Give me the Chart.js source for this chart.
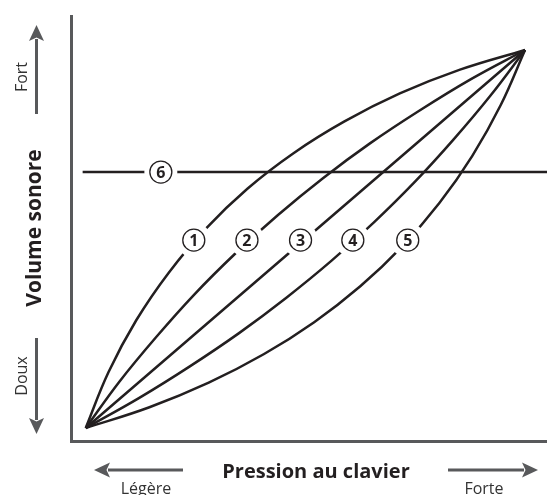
<!DOCTYPE html>
<html>
<head>
<meta charset="utf-8">
<script src="https://cdn.jsdelivr.net/npm/chart.js@4/dist/chart.umd.min.js"></script>
<style>
    html, body { margin: 0; padding: 0; background: #fff; }
    #wrap { position: relative; width: 547px; height: 495px; }
</style>
</head>
<body>
<div id="wrap"><canvas id="chart"></canvas></div>
<script>
// Key pressure (x) vs volume (y), both 0..100 from the common start to the common end point
const curve1 = [[0,0],[5.2,14.8],[11.5,28.5],[18.9,41.1],[27.3,52.7],[36.8,63.3],[47.3,72.7],[58.9,81.1],[71.5,88.5],[85.2,94.8],[100,100]];
const curve2 = [[0,0],[7.7,12.3],[16.0,24.0],[24.7,35.3],[34.0,46.1],[43.7,56.3],[54.0,66.1],[64.7,75.3],[76.0,84.0],[87.7,92.3],[100,100]];
const curve3 = [[0,0],[25,25],[50,50],[75,75],[100,100]];
const curve4 = [[0,0],[12.1,7.9],[23.7,16.3],[34.9,25.1],[45.6,34.4],[55.9,44.2],[65.6,54.4],[74.9,65.1],[83.7,76.3],[92.1,87.9],[100,100]];
const curve5 = [[0,0],[14.5,5.5],[28.0,12.0],[40.5,19.5],[52.0,28.0],[62.5,37.5],[72.0,48.0],[80.5,59.5],[88.0,72.0],[94.5,85.5],[100,100]];
const curve6 = [[-0.7,67.7],[105,67.7]];

// Circled numbers sitting on each curve
const labelText = ['1', '2', '3', '4', '5', '6'];
const labelX = [24.6, 36.7, 48.9, 60.8, 73.3, 17.1];
const labelY = [49.7, 49.7, 49.7, 49.7, 49.7, 67.7];

const INK = '#231f20';
const GREY = '#58595b';

function toPoints(arr) {
    return arr.map(p => ({ x: p[0], y: p[1] }));
}

function makeDataset(arr) {
    return {
        data: toPoints(arr),
        showLine: true,
        borderColor: INK,
        borderWidth: 2.5,
        pointRadius: 0,
        tension: 0.4,
        fill: false
    };
}

/**
 * Draw a grey arrow with a notched head, tip at (x2, y2)
 */
function drawArrow(ctx, x1, y1, x2, y2) {
    const ang = Math.atan2(y2 - y1, x2 - x1);
    const len = 16, half = 7.5, notch = 3.5;
    ctx.save();
    ctx.strokeStyle = GREY;
    ctx.fillStyle = GREY;
    ctx.lineWidth = 3;
    ctx.beginPath();
    ctx.moveTo(x1, y1);
    ctx.lineTo(x2 - Math.cos(ang) * (len - 2), y2 - Math.sin(ang) * (len - 2));
    ctx.stroke();
    ctx.translate(x2, y2);
    ctx.rotate(ang);
    ctx.beginPath();
    ctx.moveTo(0, 0);
    ctx.lineTo(-len, -half);
    ctx.lineTo(-len + notch, 0);
    ctx.lineTo(-len, half);
    ctx.closePath();
    ctx.fill();
    ctx.restore();
}

function rotatedText(ctx, text, x, y, font) {
    ctx.save();
    ctx.translate(x, y);
    ctx.rotate(-Math.PI / 2);
    ctx.font = font;
    ctx.textAlign = 'center';
    ctx.textBaseline = 'middle';
    ctx.fillText(text, 0, 0);
    ctx.restore();
}

const decorations = {
    id: 'decorations',
    beforeDatasetsDraw(chart) {
        const { ctx, chartArea } = chart;
        // Axes
        ctx.save();
        ctx.strokeStyle = GREY;
        ctx.lineWidth = 3;
        ctx.lineJoin = 'miter';
        ctx.beginPath();
        ctx.moveTo(chartArea.left + 0.5, chartArea.top);
        ctx.lineTo(chartArea.left + 0.5, chartArea.bottom + 0.5);
        ctx.lineTo(chartArea.right, chartArea.bottom + 0.5);
        ctx.stroke();
        ctx.restore();

        // Arrows
        drawArrow(ctx, 36.5, 114, 36.5, 25);
        drawArrow(ctx, 36.5, 338, 36.5, 434);
        drawArrow(ctx, 183, 470, 94, 470);
        drawArrow(ctx, 448, 470, 538, 470);

        // Axis texts
        ctx.save();
        ctx.fillStyle = '#333333';
        rotatedText(ctx, 'Fort', 22, 77, '16px "Open Sans"');
        rotatedText(ctx, 'Doux', 22, 376, '16px "Open Sans"');
        ctx.font = '16px "Open Sans"';
        ctx.textAlign = 'center';
        ctx.textBaseline = 'alphabetic';
        ctx.fillText('Légère', 146, 493.5);
        ctx.fillText('Forte', 484, 493.5);
        ctx.fillStyle = INK;
        rotatedText(ctx, 'Volume sonore', 35, 228, 'bold 21px "Open Sans"');
        ctx.font = 'bold 20px "Open Sans"';
        ctx.textAlign = 'center';
        ctx.fillText('Pression au clavier', 316, 478);
        ctx.restore();
    },
    afterDatasetsDraw(chart) {
        const { ctx } = chart;
        const xs = chart.scales.x, ys = chart.scales.y;
        ctx.save();
        labelText.forEach((t, i) => {
            const px = xs.getPixelForValue(labelX[i]);
            const py = ys.getPixelForValue(labelY[i]);
            // white gap in the line
            ctx.fillStyle = '#ffffff';
            ctx.beginPath();
            ctx.arc(px, py, i === 5 ? 16.5 : 17.5, 0, Math.PI * 2);
            ctx.fill();
            // circle
            ctx.strokeStyle = INK;
            ctx.lineWidth = 1.3;
            ctx.beginPath();
            ctx.arc(px, py, 11, 0, Math.PI * 2);
            ctx.stroke();
            // number
            ctx.fillStyle = INK;
            ctx.font = 'bold 16px "Open Sans"';
            ctx.textAlign = 'center';
            ctx.textBaseline = 'middle';
            ctx.fillText(t, px, py + 1);
        });
        ctx.restore();
    }
};

new Chart(document.getElementById('chart').getContext('2d'), {
    type: 'scatter',
    data: {
        datasets: [curve1, curve2, curve3, curve4, curve5, curve6].map(makeDataset)
    },
    options: {
        responsive: true,
        maintainAspectRatio: false,
        animation: false,
        layout: { padding: { left: 71, top: 15, right: 0, bottom: 54 } },
        scales: {
            x: { type: 'linear', min: -3.35, max: 105, display: false },
            y: { type: 'linear', min: -3.44, max: 109.26, display: false }
        },
        plugins: {
            legend: { display: false },
            tooltip: { enabled: false }
        }
    },
    plugins: [decorations]
});
</script>
</body>
</html>
